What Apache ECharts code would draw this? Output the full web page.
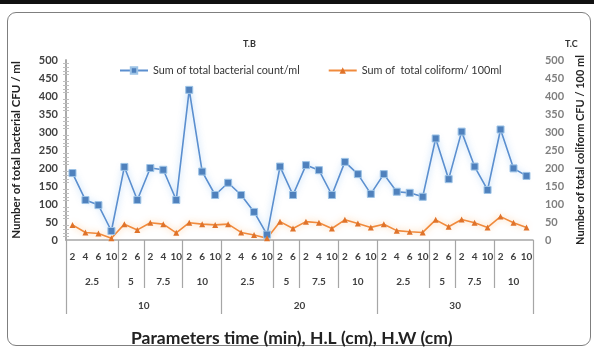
<!DOCTYPE html>
<html>
<head>
<meta charset="utf-8">
<script src="https://cdn.jsdelivr.net/npm/echarts@6/dist/echarts.min.js"></script>
<style>
  body { margin: 0; background: #fff; }
  #bar { position: absolute; left: 0; top: 0; width: 594px; height: 4px; background: #111; }
  #frame { position: absolute; left: 7px; top: 12px; width: 582px; height: 332px;
           border: 1.5px solid #7f7f7f; border-radius: 9px; }
  #main { position: absolute; left: 0; top: 0; width: 594px; height: 351px; }
</style>
</head>
<body>
<div id="bar"></div>
<div id="frame"></div>
<div id="main"></div>
<script>
    // niveaux de l'axe x : H.W > H.L > temps
    var hwLabels = ['10', '20', '30'];
    var hlLabels = ['2.5', '5', '7.5', '10'];
    var timeLabels = [['2', '4', '6', '10'], ['2', '6'], ['2', '4', '10'], ['2', '6', '10']];

    var bacteria = [186, 111, 97, 25, 203, 111, 200, 195, 111, 417, 190, 125,
                    159, 125, 78, 15, 204, 125, 208, 194, 125, 217, 183, 128,
                    183, 134, 131, 120, 282, 169, 301, 204, 139, 307, 199, 178];
    var coliform = [42, 21, 18, 5, 44, 28, 48, 44, 20, 48, 44, 42,
                    44, 21, 14, 5, 51, 32, 51, 48, 32, 56, 46, 35,
                    44, 26, 23, 21, 56, 37, 57, 48, 35, 65, 48, 35];

    // construction des categories et des positions de groupes
    var categories = [];
    var hlMid = [], hlMidName = {}, hlEdges = [];
    var hwMid = [], hwMidName = {}, hwEdges = [0];
    var pos = 0;
    for (var w = 0; w < hwLabels.length; w++) {
        var wStart = pos;
        for (var h = 0; h < hlLabels.length; h++) {
            var hStart = pos;
            for (var t = 0; t < timeLabels[h].length; t++) {
                categories.push(timeLabels[h][t]);
                pos++;
            }
            var m = (hStart + pos) / 2;
            hlMid.push(m);
            hlMidName[m] = hlLabels[h];
            if (h < hlLabels.length - 1) hlEdges.push(pos);
        }
        var mw = (wStart + pos) / 2;
        hwMid.push(mw);
        hwMidName[mw] = hwLabels[w];
        hwEdges.push(pos);
    }

    var labelFont = { color: '#404040', fontWeight: 'bold', fontFamily: 'Lato', fontSize: 10 };
    var myChart = echarts.init(document.getElementById('main'));

    var option = {
        animation: false,
        title: [
            { text: 'T.B', left: 238, top: 35, textStyle: { fontSize: 9, fontWeight: 'bold', fontFamily: 'Lato', color: '#333' } },
            { text: 'T.C', left: 560, top: 35, textStyle: { fontSize: 9, fontWeight: 'bold', fontFamily: 'Lato', color: '#333' } },
            { text: 'Parameters time (min), H.L (cm), H.W (cm)', left: 126, top: 324,
              textStyle: { fontSize: 17.5, fontWeight: 'bold', fontFamily: 'Lato', color: '#222' } }
        ],
        legend: {
            left: 114, top: 60, itemGap: 28, itemWidth: 28, itemHeight: 8,
            textStyle: { fontSize: 10.8, fontFamily: 'Lato', color: '#333' },
            data: ['Sum of total bacterial count/ml', 'Sum of  total coliform/ 100ml']
        },
        grid: { left: 66, right: 54, top: 60, bottom: 111 },
        xAxis: [
            {
                type: 'category',
                data: categories,
                axisLine: { lineStyle: { color: '#a6a6a6', width: 1.5 } },
                axisTick: { show: false },
                axisLabel: Object.assign({ interval: 0, margin: 12 }, labelFont)
            },
            {
                type: 'value', min: 0, max: categories.length,
                position: 'bottom',
                axisLine: { show: false },
                splitLine: { show: false },
                axisTick: { show: true, customValues: hlEdges.filter(function (v) { return hwEdges.indexOf(v) < 0; }),
                            length: 48, lineStyle: { color: '#a6a6a6', width: 1.2 } },
                axisLabel: Object.assign({ customValues: hlMid, margin: 37,
                    formatter: function (v) { return hlMidName[v]; } }, labelFont)
            },
            {
                type: 'value', min: 0, max: categories.length,
                position: 'bottom',
                axisLine: { show: false },
                splitLine: { show: false },
                axisTick: { show: true, customValues: hwEdges, length: 74,
                            lineStyle: { color: '#a6a6a6', width: 1.2 } },
                axisLabel: Object.assign({ customValues: hwMid, margin: 61,
                    formatter: function (v) { return hwMidName[v]; } }, labelFont)
            }
        ],
        yAxis: [
            {
                type: 'value', min: 0, max: 500, interval: 50,
                name: 'Number of total bacterial CFU / ml',
                nameLocation: 'middle', nameRotate: 90, nameGap: 44,
                nameTextStyle: { fontSize: 11.5, fontWeight: 'bold', fontFamily: 'Lato', color: '#222' },
                axisLine: { show: true, lineStyle: { color: '#a6a6a6', width: 1.5 } },
                axisTick: { show: false },
                minorTick: { show: true, splitNumber: 5, length: 3, lineStyle: { color: '#bfbfbf' } },
                splitLine: { show: false },
                axisLabel: Object.assign({ margin: 8 }, labelFont, { fontSize: 11 })
            },
            {
                type: 'value', min: 0, max: 500, interval: 50,
                name: 'Number of total coliform CFU / 100 ml',
                nameLocation: 'middle', nameRotate: 90, nameGap: 36,
                nameTextStyle: { fontSize: 11, fontWeight: 'bold', fontFamily: 'Lato', color: '#222' },
                axisLine: { show: true, lineStyle: { color: '#a6a6a6', width: 1.5 } },
                axisTick: { show: false },
                minorTick: { show: true, splitNumber: 5, length: 3, lineStyle: { color: '#bfbfbf' } },
                splitLine: { show: false },
                axisLabel: Object.assign({ margin: 12 }, labelFont, { fontSize: 11, color: '#7f7f7f' })
            }
        ],
        series: [
            {
                name: 'Sum of total bacterial count/ml',
                type: 'line',
                data: bacteria,
                yAxisIndex: 0,
                symbol: 'rect', symbolSize: 7,
                itemStyle: { color: '#4f81bd', borderColor: '#9dc3e6', borderWidth: 1 },
                lineStyle: { color: '#5b8fcf', width: 1.6, shadowColor: 'rgba(120,180,240,0.7)', shadowBlur: 6 }
            },
            {
                name: 'Sum of  total coliform/ 100ml',
                type: 'line',
                data: coliform,
                yAxisIndex: 1,
                symbol: 'triangle', symbolSize: 6,
                itemStyle: { color: '#e0732a' },
                lineStyle: { color: '#f08a3c', width: 1.6, shadowColor: 'rgba(250,170,90,0.7)', shadowBlur: 6 }
            }
        ]
    };

    myChart.setOption(option);
</script>
</body>
</html>
